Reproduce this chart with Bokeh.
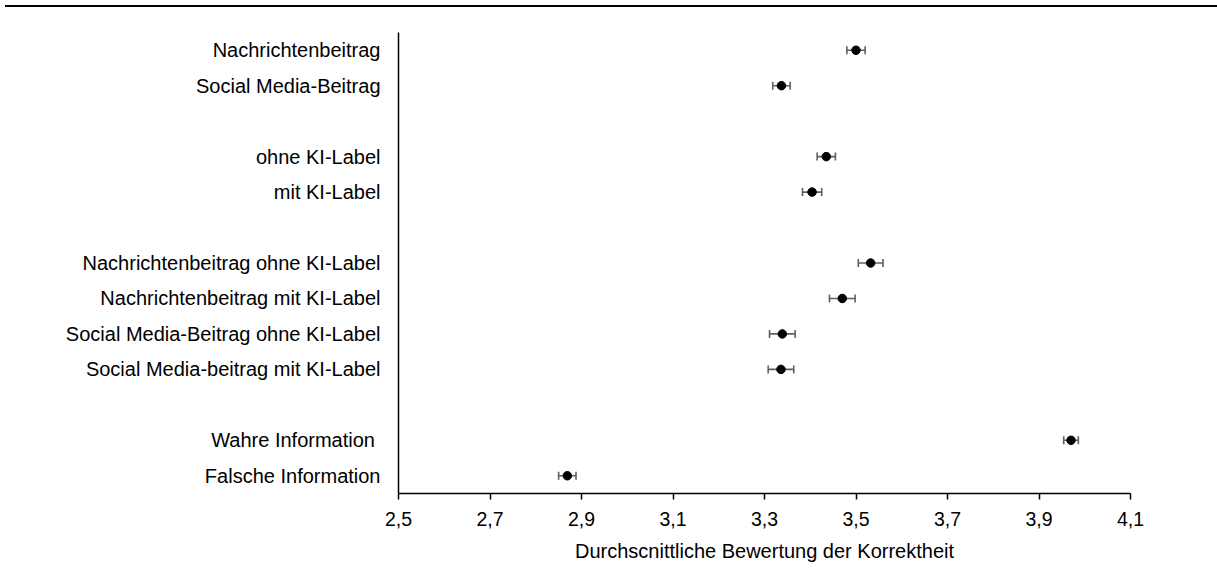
from bokeh.plotting import figure
from bokeh.models import (ColumnDataSource, Range1d, FixedTicker, Whisker, TeeHead,
                          CustomJSTickFormatter, Div)
from bokeh.layouts import column
from bokeh.embed import file_html
from bokeh.resources import INLINE

# Mean perceived correctness per condition, with standard errors
groups = [
    ["Nachrichtenbeitrag", "Social Media-Beitrag"],
    ["ohne KI-Label", "mit KI-Label"],
    ["Nachrichtenbeitrag ohne KI-Label", "Nachrichtenbeitrag mit KI-Label",
     "Social Media-Beitrag ohne KI-Label", "Social Media-beitrag mit KI-Label"],
    ["Wahre Information\u00a0", "Falsche Information"],
]
means = [3.500, 3.337, 3.435, 3.404, 3.532, 3.470, 3.339, 3.336, 3.970, 2.869]
errors = [0.020, 0.019, 0.020, 0.021, 0.027, 0.028, 0.028, 0.028, 0.016, 0.019]
x_ticks = [2.5, 2.7, 2.9, 3.1, 3.3, 3.5, 3.7, 3.9, 4.1]
x_title = "Durchscnittliche Bewertung der Korrektheit"

# one row slot per condition, an empty slot between groups
labels, rows = [], []
slot = 0
for g in groups:
    for name in g:
        labels.append(name)
        rows.append(slot)
        slot += 1
    slot += 1
n_slots = slot - 1

src = ColumnDataSource(dict(
    y=rows, m=means,
    lo=[m - e for m, e in zip(means, errors)],
    hi=[m + e for m, e in zip(means, errors)],
))

FONT = "Liberation Sans"

p = figure(width=1217, height=581,
           x_range=Range1d(x_ticks[0], x_ticks[-1]),
           y_range=Range1d(n_slots - 0.5, -0.5),
           output_backend="svg", toolbar_location=None,
           min_border_left=398, min_border_right=87,
           min_border_top=25, min_border_bottom=95)
p.outline_line_color = None
p.xgrid.visible = False
p.ygrid.visible = False
p.background_fill_color = "white"
p.border_fill_color = "white"

whisk = Whisker(source=src, base="y", lower="lo", upper="hi", dimension="width",
                line_color="#5f5f5f", line_width=1.6, level="underlay",
                upper_head=TeeHead(size=8, line_color="#5f5f5f", line_width=1.6),
                lower_head=TeeHead(size=8, line_color="#5f5f5f", line_width=1.6))
p.add_layout(whisk)
p.scatter(x="m", y="y", source=src, size=8.5, fill_color="black", line_color="black")

# x axis
xa = p.xaxis[0]
xa.ticker = FixedTicker(ticks=x_ticks)
xa.formatter = CustomJSTickFormatter(code="return tick.toFixed(1).replace('.', ',');")
xa.minor_tick_line_color = None
xa.major_tick_in = 0
xa.major_tick_out = 6
xa.major_tick_line_color = "black"
xa.major_tick_line_width = 1.5
xa.axis_line_color = "black"
xa.axis_line_width = 1.5
xa.major_label_text_font = FONT
xa.major_label_text_font_size = "19.5px"
xa.major_label_text_color = "black"
xa.major_label_standoff = 12
xa.axis_label = x_title
xa.axis_label_text_font = FONT
xa.axis_label_text_font_size = "20px"
xa.axis_label_text_font_style = "normal"
xa.axis_label_text_color = "black"
xa.axis_label_standoff = 11

# y axis with condition names
ya = p.yaxis[0]
ya.ticker = FixedTicker(ticks=rows)
ya.major_label_overrides = {r: lab for r, lab in zip(rows, labels)}
ya.major_tick_in = 0
ya.major_tick_out = 0
ya.minor_tick_line_color = None
ya.axis_line_color = "black"
ya.axis_line_width = 1.5
ya.major_label_standoff = 18
ya.major_label_text_font = FONT
ya.major_label_text_font_size = "20px"
ya.major_label_text_color = "black"

rule = Div(text="", width=1212, height=2, margin=(5, 0, 0, 5),
           styles={"background-color": "black"})

layout = column(rule, p, spacing=0)
open("out.html", "w").write(file_html(layout, INLINE))
